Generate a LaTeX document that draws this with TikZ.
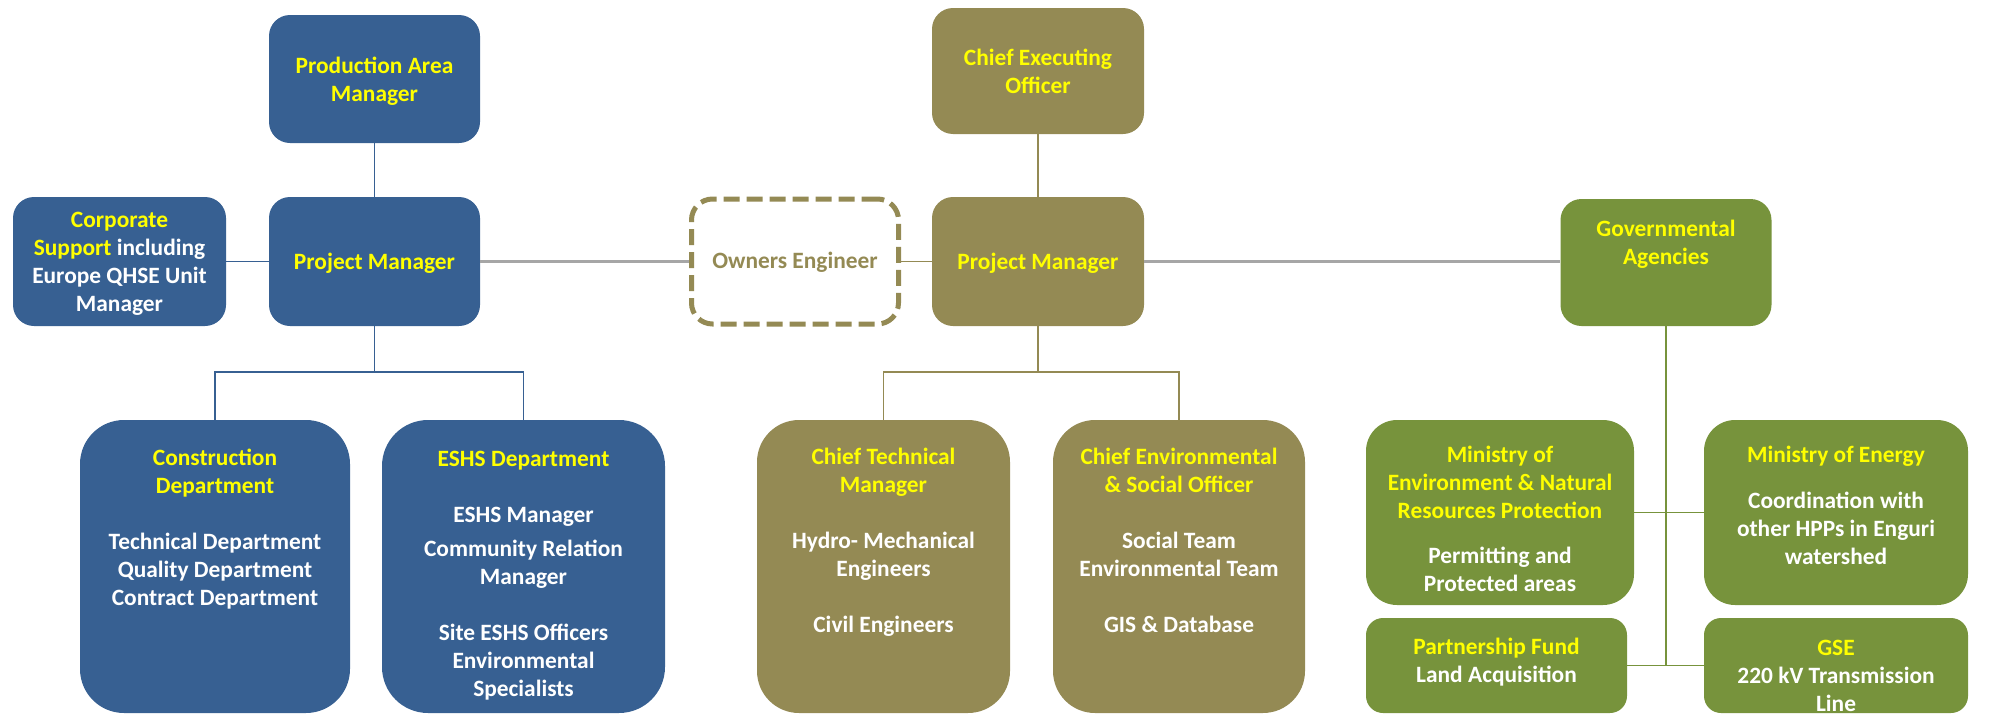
\documentclass[tikz,border=0pt]{standalone}
\usepackage{fontspec}
\setmainfont{Carlito}
\definecolor{cblue}{HTML}{376092}
\definecolor{colive}{HTML}{948A54}
\definecolor{cgreen}{HTML}{77933C}
\definecolor{cyel}{HTML}{FFFF00}
\definecolor{cgray}{HTML}{A6A6A6}
\newcommand{\yl}[1]{\textcolor{cyel}{#1}}
\newcommand{\boxtext}[1]{\begin{tabular}[t]{@{}c@{}}#1\end{tabular}}
\begin{document}
\begin{tikzpicture}[x=1pt,y=-1pt,
  sz/.style n args={3}{minimum width=#1pt,minimum height=#2pt,rounded corners=#3pt},
  bluebox/.style={fill=cblue,draw=none,inner sep=0pt},
  olivebox/.style={fill=colive,draw=none,inner sep=0pt},
  greenbox/.style={fill=cgreen,draw=none,inner sep=0pt},
  dashbox/.style={fill=white,draw=colive,line width=5pt,dash pattern=on 16pt off 7pt,inner sep=0pt},
  lbl/.style={anchor=base,inner sep=0pt,text=white,font=\fontsize{23.4}{28}\selectfont\bfseries},
  bline/.style={draw=cblue,line width=1.8pt},
  oline/.style={draw=colive,line width=1.8pt},
  grline/.style={draw=cgreen,line width=1.8pt},
  gyline/.style={draw=cgray,line width=2.2pt}]
\useasboundingbox (0,0) rectangle (1989,715);

% ---- boxes (blue)
\node[bluebox,sz={211}{128}{21}] (pam) at (374.5,79) {};
\node[bluebox,sz={211}{129}{21}] (pmL) at (374.5,261.5) {};
\node[bluebox,sz={213}{129}{21}] (corp) at (119.5,261.5) {};
\node[bluebox,sz={270}{293}{44}] (cons) at (215,566.5) {};
\node[bluebox,sz={283}{293}{46}] (eshs) at (523.5,566.5) {};
% ---- boxes (olive)
\node[dashbox,sz={207}{125}{21}] (oe) at (795,261.5) {};
\node[olivebox,sz={212}{126}{21}] (ceo) at (1038,71) {};
\node[olivebox,sz={212}{129}{21}] (pmC) at (1038,261.5) {};
\node[olivebox,sz={253}{293}{42}] (ctm) at (883.5,566.5) {};
\node[olivebox,sz={252}{293}{42}] (ceso) at (1179,566.5) {};
% ---- boxes (green)
\node[greenbox,sz={211}{127}{21}] (ga) at (1666,262.5) {};
\node[greenbox,sz={268}{185}{31}] (moe) at (1500,512.5) {};
\node[greenbox,sz={264}{185}{31}] (moen) at (1836,512.5) {};
\node[greenbox,sz={261}{95}{17}] (pf) at (1496.5,665.5) {};
\node[greenbox,sz={264}{95}{17}] (gse) at (1836,665.5) {};

% ---- connectors
\coordinate (busL) at (374.5,372);
\coordinate (busC) at (1038,372);
\coordinate (gbot) at (1666,665.5);
\draw[bline] (pam) -- (pmL);
\draw[bline] (corp) -- (pmL);
\draw[bline] (pmL.south) -- (busL) -| (cons.north);
\draw[bline] (busL) -| (eshs.north);
\draw[gyline] (pmL.east) -- (oe.west);
\draw[oline] (oe.east) -- (pmC.west);
\draw[oline] (ceo) -- (pmC);
\draw[oline] (pmC.south) -- (busC) -| (ctm.north);
\draw[oline] (busC) -| (ceso.north);
\draw[gyline] (pmC.east) -- (pmC.east -| ga.west);
\draw[grline] (ga.south) -- (gbot);
\draw[grline] (moe.east) -- (moen.west);
\draw[grline] (pf.east) -- (gse.west);

% ---- texts
\node[lbl] (pamT) at (374.5,73) {\boxtext{\yl{Production Area}\\\yl{Manager}}};
\node[lbl] (pmLT) at (374.5,269) {\boxtext{\yl{Project Manager}}};
\node[lbl] (corpT) at (119.5,227) {\boxtext{\yl{Corporate}\\\yl{Support} including\\Europe QHSE Unit\\Manager}};
\node[lbl] (consT) at (215,465) {\boxtext{\yl{Construction}\\\yl{Department}\\[28pt]Technical Department\\Quality Department\\Contract Department}};
\node[lbl] (eshsT) at (523.5,466) {\boxtext{\yl{ESHS Department}\\[28pt]ESHS Manager\\[6pt]Community Relation\\Manager\\[28pt]Site ESHS Officers\\Environmental\\Specialists}};
\node[lbl,text=colive] (oeT) at (795,268) {\boxtext{Owners Engineer}};
\node[lbl] (ceoT) at (1038,65) {\boxtext{\yl{Chief Executing}\\\yl{Officer}}};
\node[lbl] (pmCT) at (1038,269) {\boxtext{\yl{Project Manager}}};
\node[lbl] (ctmT) at (883.5,464) {\boxtext{\yl{Chief Technical}\\\yl{Manager}\\[28pt]Hydro- Mechanical\\Engineers\\[28pt]Civil Engineers}};
\node[lbl] (cesoT) at (1179,464) {\boxtext{\yl{Chief Environmental}\\\yl{\& Social Officer}\\[28pt]Social Team\\Environmental Team\\[28pt]GIS \& Database}};
\node[lbl] (gaT) at (1666,236) {\boxtext{\yl{Governmental}\\\yl{Agencies}}};
\node[lbl] (moeT) at (1500,462) {\boxtext{\yl{Ministry of}\\\yl{Environment \& Natural}\\\yl{Resources Protection}\\[17pt]Permitting and\\Protected areas}};
\node[lbl] (moenT) at (1836,462) {\boxtext{\yl{Ministry of Energy}\\[18pt]Coordination with\\other HPPs in Enguri\\watershed}};
\node[lbl] (pfT) at (1496.5,654) {\boxtext{\yl{Partnership Fund}\\Land Acquisition}};
\node[lbl] (gseT) at (1836,655) {\boxtext{\yl{GSE}\\220 kV Transmission\\Line}};
\end{tikzpicture}
\end{document}
